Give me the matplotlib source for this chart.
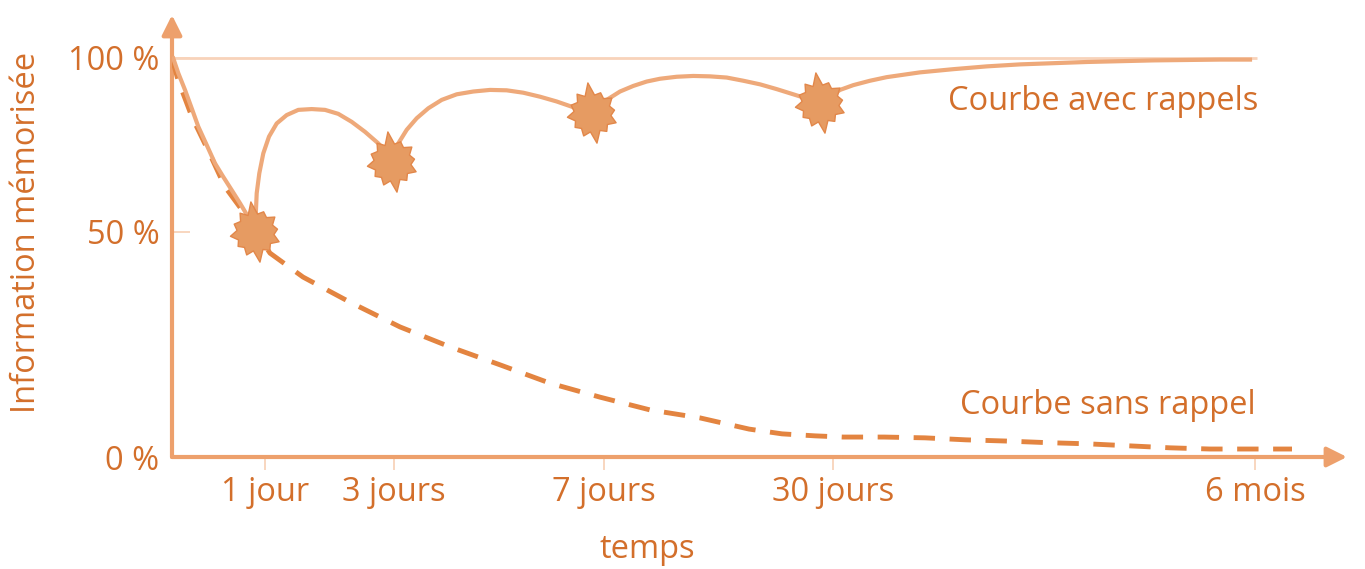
import matplotlib
matplotlib.use("Agg")
import matplotlib.pyplot as plt
from matplotlib.path import Path
import numpy as np

# ---------------- data ----------------
# x: position along the time axis (graph units), y: % of information kept (graph scale)
tick_positions = [93, 222, 432, 661, 1083]
tick_labels = ["1 jour", "3 jours", "7 jours", "30 jours", "6 mois"]

y_tick_values = [0, 56.4, 100]
y_tick_labels = ["0 %", "50 %", "100 %"]

# curve with reviews (solid)
avec_x = [1.3, 6.3, 13, 19.7, 26.3, 34.7, 43, 51.3, 59.7, 68, 78, 83,
          84.7, 87.3, 91.3, 97, 104.7, 114.7, 126.3, 139.7, 153, 166.3, 179.7,
          193, 206.3, 219.7,
          226.3, 234.7, 244.7, 256.3, 269.7, 284.7, 301.3, 318, 334.7, 351.3,
          368, 384.7, 399.7, 419.7,
          434.7, 448, 461.3, 474.7, 488, 504.7, 521.3, 538, 554.7, 571.3, 588,
          604.7, 621.3, 648,
          668, 681.3, 698, 714.7, 748, 781.3, 814.7, 848, 881.3, 914.7, 948,
          981.3, 1014.7, 1048, 1078]
avec_y = [99.9, 96.2, 92.0, 87.4, 82.8, 78.2, 73.6, 70.2, 66.9, 63.6, 59.4, 56.4,
          66.1, 71.1, 76.1, 80.3, 83.6, 85.7, 87.0, 87.2, 87.0, 86.0, 84.0,
          81.5, 78.6, 75.0,
          78.6, 82.0, 84.9, 87.4, 89.5, 90.9, 91.6, 92.0, 91.9, 91.3,
          90.3, 89.1, 87.8, 85.9,
          89.5, 91.6, 93.0, 94.1, 94.8, 95.3, 95.5, 95.4, 95.1, 94.3, 93.4,
          92.2, 90.9, 88.8,
          92.0, 93.2, 94.3, 95.2, 96.4, 97.2, 97.9, 98.4, 98.7, 99.0, 99.2,
          99.4, 99.5, 99.6, 99.6]

# review moments (stars)
rappel_x = [83, 219.7, 419.7, 648]
rappel_y = [56.4, 73.9, 86.2, 88.8]

# curve without review (dashed)
sans_x = [0, 6, 20, 36, 53, 70, 86, 98, 131, 178, 228, 278, 328, 378, 428, 478,
          528, 577, 610, 643, 671, 712, 753, 794, 834, 875, 916, 957, 998, 1038,
          1079, 1120]
sans_y = [100, 94.5, 85.2, 76.9, 67.7, 61.9, 55.6, 51.1, 45.1, 38.8, 32.6, 27.6,
          23.1, 18.5, 15.0, 11.8, 9.8, 7.0, 5.8, 5.3, 5.0, 5.0, 4.8, 4.3, 4.0,
          3.6, 3.3, 2.8, 2.3, 2.0, 2.0, 2.0]

label_avec = "Courbe avec rappels"
label_sans = "Courbe sans rappel"
x_title = "temps"
y_title = "Information mémorisée"

# ---------------- style ----------------
TXT = "#D36F2B"
AXIS = "#EDA06C"
LIGHT = "#F8D3BA"
SOLID = "#EEA97A"
DASH = "#E38440"
STAR_FACE = "#E69B62"
STAR_EDGE = "#E2874A"
FONT = ["Open Sans", "DejaVu Sans"]
FS = 23.5

plt.rcParams["font.family"] = FONT

W, H = 1365, 569
fig = plt.figure(figsize=(W / 100, H / 100), dpi=100)
fig.patch.set_facecolor("white")
ax = fig.add_axes([172 / W, (H - 457) / H, 1175 / W, 442 / H])
ax.set_xlim(0, 1175)
ax.set_ylim(0, 442 / 3.99)
for s in ax.spines.values():
    s.set_visible(False)

# axes with arrow heads
arrow = dict(arrowstyle="-|>,head_length=0.6,head_width=0.3", color=AXIS,
             lw=3, shrinkA=0, shrinkB=0, mutation_scale=20)
ax.annotate("", xy=(1, 0), xytext=(0, 0), xycoords="axes fraction", arrowprops=arrow, zorder=3)
ax.annotate("", xy=(0, 1), xytext=(0, 0), xycoords="axes fraction", arrowprops=arrow, zorder=3)

# 100 % reference line
ax.hlines(y_tick_values[-1], 0, tick_positions[-1] + 2, color=LIGHT, lw=2, zorder=1)

# ticks
ax.set_xticks(tick_positions, tick_labels)
ax.tick_params(axis="x", direction="out", length=9, width=1.3, color=LIGHT,
               pad=5, labelsize=FS, labelcolor=TXT)
ax.set_yticks(y_tick_values, y_tick_labels)
ax.tick_params(axis="y", direction="in", length=13, width=1.3, color=LIGHT,
               pad=9, labelsize=FS, labelcolor=TXT)

# curves
ax.plot(sans_x, sans_y, color=DASH, lw=3.5, dashes=(4.4, 3.0), solid_capstyle="butt",
        zorder=4)
ax.plot(avec_x, avec_y, color=SOLID, lw=3, zorder=5, solid_joinstyle="round")

# starburst marker
radii = [1.0, 0.6, 0.8, 0.6, 0.74, 0.6, 0.82, 0.6, 0.72, 0.6, 0.78, 0.6,
         0.97, 0.6, 0.74, 0.6, 0.82, 0.6, 0.72, 0.6, 0.8, 0.6, 0.72, 0.6]
ang = np.linspace(0, 2 * np.pi, len(radii), endpoint=False) + np.pi / 2 + 0.15
verts = np.column_stack([np.cos(ang) * radii, np.sin(ang) * radii])
verts = np.vstack([verts, verts[:1]])
codes = [Path.MOVETO] + [Path.LINETO] * (len(radii) - 1) + [Path.CLOSEPOLY]
burst = Path(verts, codes)
ax.plot(rappel_x, rappel_y, linestyle="none", marker=burst, markersize=44,
        markerfacecolor=STAR_FACE, markeredgecolor=STAR_EDGE, markeredgewidth=1, zorder=6)

# labels
ax.text(931, 89.0, label_avec, ha="center", va="center", color=TXT, fontsize=FS)
ax.text(936, 13.0, label_sans, ha="center", va="center", color=TXT, fontsize=FS)
fig.text(647 / W, 1 - 550 / H, x_title, ha="center", va="center", color=TXT, fontsize=FS)
fig.text(27 / W, 1 - 232 / H, y_title, ha="center", va="center", color=TXT,
         fontsize=FS, rotation=90)

fig.savefig("out.png", dpi=100, facecolor="white")
